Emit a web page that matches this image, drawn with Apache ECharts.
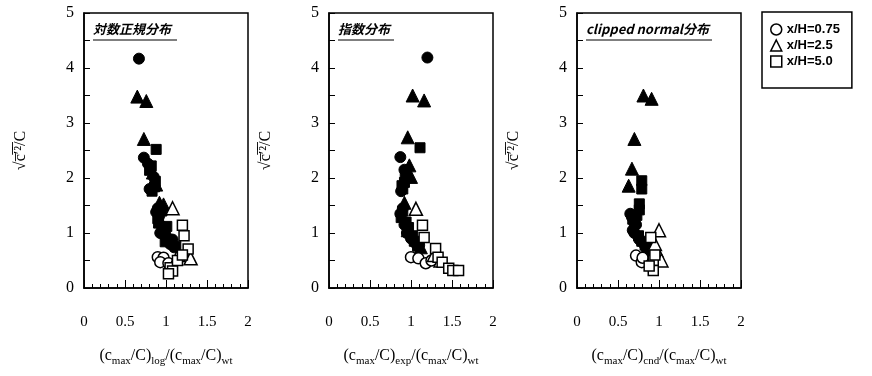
<!DOCTYPE html>
<html>
<head>
<meta charset="utf-8">
<script src="https://cdn.jsdelivr.net/npm/echarts@6/dist/echarts.min.js"></script>
<style>
  html, body { margin: 0; padding: 0; background: #fff; }
  #main { width: 872px; height: 376px; }
</style>
</head>
<body>
<div id="main"></div>
<script>
// tick labels
const xTicks = [0, 0.5, 1, 1.5, 2];
const yTicks = [0, 1, 2, 3, 4, 5];
const legendNames = ['x/H=0.75', 'x/H=2.5', 'x/H=5.0'];
const panelTitles = ['対数正規分布', '指数分布', 'clipped normal分布'];
const xSubs = ['log', 'exp', 'cnd'];

// panel 1 : log-normal
const logFilledCircle = [[0.67,4.17],[0.73,2.37],[0.78,2.26],[0.85,2.02],[0.80,1.80],[0.92,1.32],[0.95,1.12],[1.00,0.92],[1.05,0.80],[1.10,0.74],[0.90,1.45],[0.88,1.38],[0.93,1.00],[1.08,0.88]];
const logFilledTriangle = [[0.65,3.48],[0.76,3.40],[0.73,2.71],[0.84,2.10],[0.97,1.52],[0.93,1.22],[1.02,0.99],[0.88,1.88],[0.92,1.55]];
const logFilledSquare = [[0.88,2.52],[0.87,1.94],[0.83,1.76],[0.95,1.40],[0.90,1.26],[0.97,1.05],[1.05,0.86],[1.12,0.76],[0.80,2.14],[0.82,2.22],[0.86,1.84],[0.91,1.18],[0.99,0.84],[1.01,1.12]];
const logOpenCircle = [[0.90,0.56],[0.97,0.55],[0.93,0.47],[1.03,0.45]];
const logOpenTriangle = [[1.08,1.45],[1.30,0.54],[1.15,0.60]];
const logOpenSquare = [[1.20,1.14],[1.22,0.95],[1.27,0.71],[1.05,0.37],[1.08,0.31],[1.14,0.50],[1.03,0.26],[1.20,0.60]];

// panel 2 : exponential
const expFilledCircle = [[1.20,4.19],[0.87,2.38],[0.92,2.15],[0.88,1.76],[0.90,1.45],[0.92,1.15],[1.00,0.90],[1.10,0.78],[0.87,1.35],[0.95,1.00],[1.05,0.82]];
const expFilledTriangle = [[1.02,3.50],[1.16,3.41],[0.96,2.74],[0.98,2.23],[1.00,2.02],[0.92,1.55],[0.96,1.05],[1.12,0.74],[0.95,2.10]];
const expFilledSquare = [[1.11,2.55],[0.92,1.92],[0.90,1.80],[0.88,1.28],[0.94,1.20],[1.04,0.85],[1.02,0.95],[0.93,2.00],[0.89,1.86],[0.90,1.40],[0.97,1.10],[1.08,0.76]];
const expOpenCircle = [[1.00,0.56],[1.09,0.54],[1.18,0.45],[1.25,0.50]];
const expOpenTriangle = [[1.06,1.44],[1.28,0.60],[1.36,0.50]];
const expOpenSquare = [[1.14,1.14],[1.16,0.92],[1.30,0.72],[1.33,0.56],[1.38,0.47],[1.46,0.36],[1.51,0.32],[1.58,0.32]];

// panel 3 : clipped normal
const cndFilledCircle = [[0.67,1.29],[0.68,1.05],[0.72,1.15],[0.81,0.81],[0.85,0.70],[0.65,1.35],[0.70,1.00],[0.76,0.88]];
const cndFilledTriangle = [[0.81,3.50],[0.91,3.44],[0.70,2.71],[0.67,2.17],[0.63,1.86]];
const cndFilledSquare = [[0.79,1.95],[0.79,1.80],[0.76,1.53],[0.76,1.42],[0.70,1.20],[0.75,0.95],[0.83,0.78],[0.89,0.65],[0.73,1.32],[0.68,1.25],[0.79,0.85],[0.87,0.72]];
const cndOpenCircle = [[0.72,0.59],[0.79,0.47],[0.80,0.55]];
const cndOpenTriangle = [[1.00,1.05],[0.97,0.68],[1.03,0.50],[0.95,0.80]];
const cndOpenSquare = [[0.90,0.92],[0.93,0.50],[0.93,0.32],[0.88,0.40],[0.95,0.60]];

const panels = [
  [logFilledCircle, logFilledTriangle, logFilledSquare, logOpenCircle, logOpenTriangle, logOpenSquare],
  [expFilledCircle, expFilledTriangle, expFilledSquare, expOpenCircle, expOpenTriangle, expOpenSquare],
  [cndFilledCircle, cndFilledTriangle, cndFilledSquare, cndOpenCircle, cndOpenTriangle, cndOpenSquare]
];

const gridLefts = [84, 329, 577];
const gridWidth = 164;
const serif = 'Liberation Serif';
const symbols = ['circle', 'triangle', 'rect'];
const sizes = [11, 13, 10];

const chart = echarts.init(document.getElementById('main'));

const grids = [], xAxes = [], yAxes = [], series = [], graphics = [];
gridLefts.forEach((left, i) => {
  grids.push({
    left: left, top: 13, width: gridWidth, height: 275,
    show: true, borderColor: '#000', borderWidth: 1.5, backgroundColor: 'transparent'
  });
  xAxes.push({
    gridIndex: i, type: 'value', min: xTicks[0], max: xTicks[xTicks.length - 1], interval: 0.5,
    axisLine: { lineStyle: { color: '#000', width: 1.5 } },
    axisTick: { inside: true, length: 8, lineStyle: { color: '#000' } },
    minorTick: { show: true, splitNumber: 5, length: 4, lineStyle: { color: '#000' } },
    splitLine: { show: false },
    axisLabel: { color: '#000', fontFamily: serif, fontSize: 15, margin: 27 },
    name: '{m|(c}{s|max}{m|/C)}{s|' + xSubs[i] + '}{m|/(c}{s|max}{m|/C)}{s|wt}',
    nameLocation: 'middle', nameGap: 57,
    nameTextStyle: {
      rich: {
        m: { fontFamily: serif, fontSize: 16, color: '#000', lineHeight: 22 },
        s: { fontFamily: serif, fontSize: 11, color: '#000', lineHeight: 12, verticalAlign: 'bottom' }
      }
    }
  });
  yAxes.push({
    gridIndex: i, type: 'value', min: yTicks[0], max: yTicks[yTicks.length - 1], interval: 0.5,
    axisLine: { lineStyle: { color: '#000', width: 1.5 } },
    axisTick: { inside: true, length: 6, lineStyle: { color: '#000' } },
    splitLine: { show: false },
    axisLabel: {
      color: '#000', fontFamily: serif, fontSize: 16, margin: 10,
      formatter: v => (yTicks.indexOf(v) >= 0 ? String(v) : '')
    },
    name: '√c\u0305\u2032\u0305\u00B2\u0305/C',
    nameLocation: 'middle', nameGap: 55,
    nameTextStyle: { fontFamily: serif, fontSize: 16, color: '#000' }
  });
  panels[i].forEach((data, k) => {
    const shape = k % 3;
    const open = k >= 3;
    series.push({
      type: 'scatter', name: legendNames[shape], xAxisIndex: i, yAxisIndex: i,
      symbol: symbols[shape], symbolSize: sizes[shape], data: data,
      z: open ? 3 : 2,
      itemStyle: open
        ? { color: '#fff', borderColor: '#000', borderWidth: 1.5, opacity: 1 }
        : { color: '#000', borderColor: '#000', borderWidth: 1, opacity: 1 }
    });
  });
  graphics.push({
    type: 'text', left: left + 9, top: 23,
    style: {
      text: panelTitles[i], fill: '#000', fontStyle: 'italic', fontWeight: 'bold', fontSize: 13,
      fontFamily: 'Noto Sans CJK JP'
    }
  });
});

// underlines for panel titles
const titleWidths = [84, 56, 126];
gridLefts.forEach((left, i) => {
  graphics.push({
    type: 'line', shape: { x1: left + 9, y1: 40, x2: left + 9 + titleWidths[i], y2: 40 },
    style: { stroke: '#000', lineWidth: 1 }
  });
});

chart.setOption({
  animation: false,
  backgroundColor: '#fff',
  grid: grids,
  xAxis: xAxes,
  yAxis: yAxes,
  legend: {
    orient: 'vertical', left: 762, top: 12,
    padding: [11, 12, 20, 8], itemGap: 3, itemWidth: 11, itemHeight: 11,
    borderColor: '#000', borderWidth: 1.5,
    textStyle: { fontFamily: 'Liberation Sans', fontWeight: 'bold', fontSize: 13, color: '#000' },
    data: legendNames.map((n, k) => ({
      name: n, icon: symbols[k],
      itemStyle: { color: '#fff', borderColor: '#000', borderWidth: 1.5 }
    }))
  },
  graphic: graphics,
  series: series
});
</script>
</body>
</html>
